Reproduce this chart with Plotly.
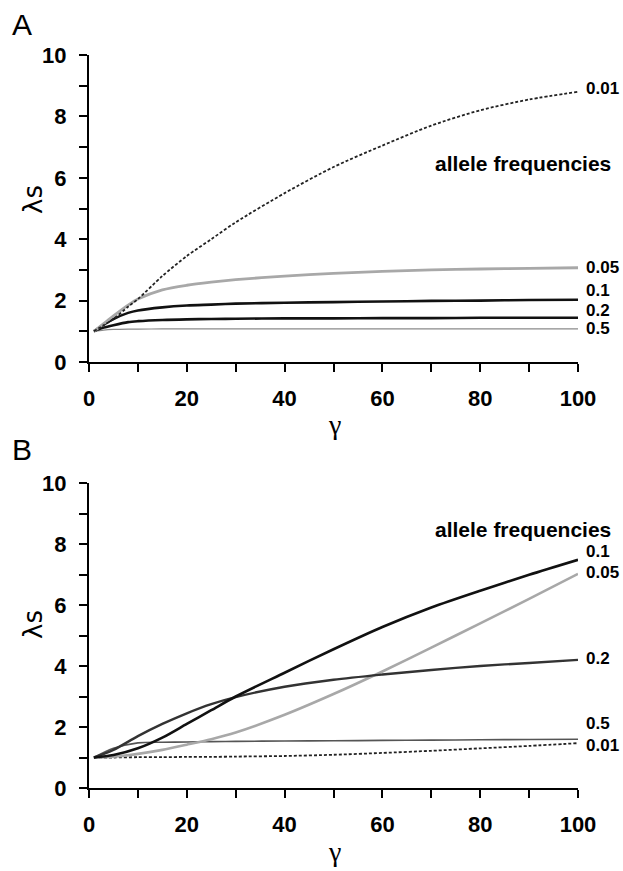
import plotly.graph_objects as go

# ---------------- data ----------------
gamma_a = [1, 3, 5, 8, 10, 15, 20, 25, 30, 40, 50, 60, 70, 80, 90, 100]
a_001 = [1.0, 1.2, 1.4, 1.8, 2.05, 2.8, 3.45, 4.0, 4.55, 5.5, 6.35, 7.05, 7.7, 8.2, 8.55, 8.8]
a_005 = [1.0, 1.25, 1.5, 1.85, 2.05, 2.35, 2.5, 2.6, 2.68, 2.8, 2.89, 2.95, 3.0, 3.03, 3.05, 3.07]
a_01 = [1.0, 1.22, 1.4, 1.6, 1.68, 1.78, 1.84, 1.87, 1.9, 1.93, 1.95, 1.97, 1.99, 2.0, 2.02, 2.03]
a_02 = [1.0, 1.12, 1.2, 1.3, 1.33, 1.37, 1.39, 1.4, 1.41, 1.42, 1.42, 1.43, 1.43, 1.44, 1.44, 1.44]
a_05 = [1.0, 1.04, 1.06, 1.07, 1.07, 1.08, 1.08, 1.08, 1.08, 1.08, 1.08, 1.08, 1.08, 1.08, 1.08, 1.08]

gamma_b = [1, 5, 10, 15, 20, 25, 30, 40, 50, 60, 70, 80, 90, 100]
b_01 = [1.0, 1.08, 1.3, 1.65, 2.1, 2.55, 3.0, 3.78, 4.55, 5.28, 5.92, 6.47, 6.99, 7.48]
b_02 = [1.0, 1.25, 1.7, 2.1, 2.45, 2.75, 2.98, 3.32, 3.55, 3.72, 3.87, 4.0, 4.1, 4.2]
b_005 = [1.0, 1.03, 1.12, 1.25, 1.42, 1.6, 1.82, 2.4, 3.08, 3.82, 4.6, 5.4, 6.2, 7.02]
b_05 = [1.0, 1.3, 1.48, 1.5, 1.51, 1.52, 1.53, 1.54, 1.55, 1.56, 1.57, 1.58, 1.59, 1.6]
b_001 = [1.0, 1.0, 1.01, 1.01, 1.02, 1.02, 1.03, 1.05, 1.09, 1.15, 1.22, 1.3, 1.38, 1.47]

# label positions (value axis) for the curve labels
labels_a = ["0.01", "0.05", "0.1", "0.2", "0.5"]
label_y_a = [8.9, 3.07, 2.32, 1.67, 1.08]
labels_b = ["0.1", "0.05", "0.2", "0.5", "0.01"]
label_y_b = [7.74, 7.08, 4.23, 2.1, 1.41]

x_ticks = [0, 20, 40, 60, 80, 100]
y_ticks = [0, 2, 4, 6, 8, 10]

# ---------------- figure ----------------
W, H = 623, 871
fig = go.Figure()

def add(x, y, xa, ya, color, width, dash="solid"):
    fig.add_trace(go.Scatter(x=x, y=y, xaxis=xa, yaxis=ya, mode="lines",
                             line=dict(color=color, width=width, dash=dash, shape="spline", smoothing=0.8),
                             showlegend=False, hoverinfo="skip"))

DOT = "3px,2px"
# Panel A
add(gamma_a, a_05, "x", "y", "#8a8a8a", 1.2)
add(gamma_a, a_02, "x", "y", "#111111", 2.6)
add(gamma_a, a_01, "x", "y", "#111111", 2.6)
add(gamma_a, a_005, "x", "y", "#a8a8a8", 2.8)
add(gamma_a, a_001, "x", "y", "#222222", 1.8, DOT)
# Panel B
add(gamma_b, b_001, "x2", "y2", "#222222", 1.8, DOT)
add(gamma_b, b_05, "x2", "y2", "#555555", 1.6)
add(gamma_b, b_005, "x2", "y2", "#a8a8a8", 2.6)
add(gamma_b, b_02, "x2", "y2", "#333333", 2.4)
add(gamma_b, b_01, "x2", "y2", "#111111", 2.6)

xdom = [89 / W, 578 / W]
ydomA = [1 - 362 / H, 1 - 55 / H]
ydomB = [1 - 788 / H, 1 - 483 / H]

tickfont = dict(family="Liberation Sans, Arial", size=22, color="black", weight="bold")

def xaxis_cfg(anchor):
    return dict(domain=xdom, anchor=anchor, range=[0, 100], tickvals=x_ticks,
                ticks="outside", ticklen=8, tickwidth=2, tickcolor="black", automargin=False,
                showline=True, linewidth=2, linecolor="black", showgrid=False, zeroline=False,
                tickfont=tickfont, ticklabelstandoff=8,
                minor=dict(dtick=10, tick0=0, ticks="outside", ticklen=8, tickwidth=2, tickcolor="black"))

def yaxis_cfg(anchor, dom):
    return dict(domain=dom, anchor=anchor, range=[0, 10], tickvals=y_ticks,
                ticks="outside", ticklen=8, tickwidth=2, tickcolor="black", automargin=False,
                showline=True, linewidth=2, linecolor="black", showgrid=False, zeroline=False,
                tickfont=tickfont, ticklabelstandoff=8,
                minor=dict(dtick=1, tick0=0, ticks="outside", ticklen=8, tickwidth=2, tickcolor="black"))

fig.update_layout(
    width=W, height=H, margin=dict(l=0, r=0, t=0, b=0, autoexpand=False),
    paper_bgcolor="white", plot_bgcolor="white",
    xaxis=xaxis_cfg("y"), yaxis=yaxis_cfg("x", ydomA),
    xaxis2=xaxis_cfg("y2"), yaxis2=yaxis_cfg("x2", ydomB),
)

ann = []
lblfont = dict(family="Liberation Sans, Arial", size=17, color="black", weight="bold")
for t, yv in zip(labels_a, label_y_a):
    ann.append(dict(x=100, y=yv, xref="x", yref="y", text=t, showarrow=False,
                    xanchor="left", yanchor="middle", xshift=6, font=lblfont))
for t, yv in zip(labels_b, label_y_b):
    ann.append(dict(x=100, y=yv, xref="x2", yref="y2", text=t, showarrow=False,
                    xanchor="left", yanchor="middle", xshift=6, font=lblfont))

afont = dict(family="Liberation Sans, Arial", size=21, color="black", weight="bold")
ann.append(dict(x=523 / W, y=1 - 163 / H, xref="paper", yref="paper", text="allele frequencies",
                showarrow=False, xanchor="center", yanchor="middle", font=afont))
ann.append(dict(x=523 / W, y=1 - 529 / H, xref="paper", yref="paper", text="allele frequencies",
                showarrow=False, xanchor="center", yanchor="middle", font=afont))

# panel letters
pfont = dict(family="Liberation Sans, Arial", size=30, color="black")
ann.append(dict(x=22 / W, y=1 - 24 / H, xref="paper", yref="paper", text="A", showarrow=False,
                xanchor="center", yanchor="middle", font=pfont))
ann.append(dict(x=22 / W, y=1 - 450 / H, xref="paper", yref="paper", text="B", showarrow=False,
                xanchor="center", yanchor="middle", font=pfont))

# axis titles
yt_font = dict(family="DejaVu Sans, Liberation Sans", size=26, color="black")
ann.append(dict(x=33 / W, y=1 - 200 / H, xref="paper", yref="paper", text="λs", showarrow=False,
                textangle=-90, xanchor="center", yanchor="middle", font=yt_font))
ann.append(dict(x=33 / W, y=1 - 625 / H, xref="paper", yref="paper", text="λs", showarrow=False,
                textangle=-90, xanchor="center", yanchor="middle", font=yt_font))
xt_font = dict(family="Liberation Serif, Times New Roman", size=28, color="black")
ann.append(dict(x=334 / W, y=1 - 424 / H, xref="paper", yref="paper", text="γ", showarrow=False,
                xanchor="center", yanchor="middle", font=xt_font))
ann.append(dict(x=334 / W, y=1 - 851 / H, xref="paper", yref="paper", text="γ", showarrow=False,
                xanchor="center", yanchor="middle", font=xt_font))

fig.update_layout(annotations=ann)
fig.write_html("out.html", config={"displayModeBar": False},
               post_script="document.body.style.margin='0';document.body.style.overflow='hidden';")
